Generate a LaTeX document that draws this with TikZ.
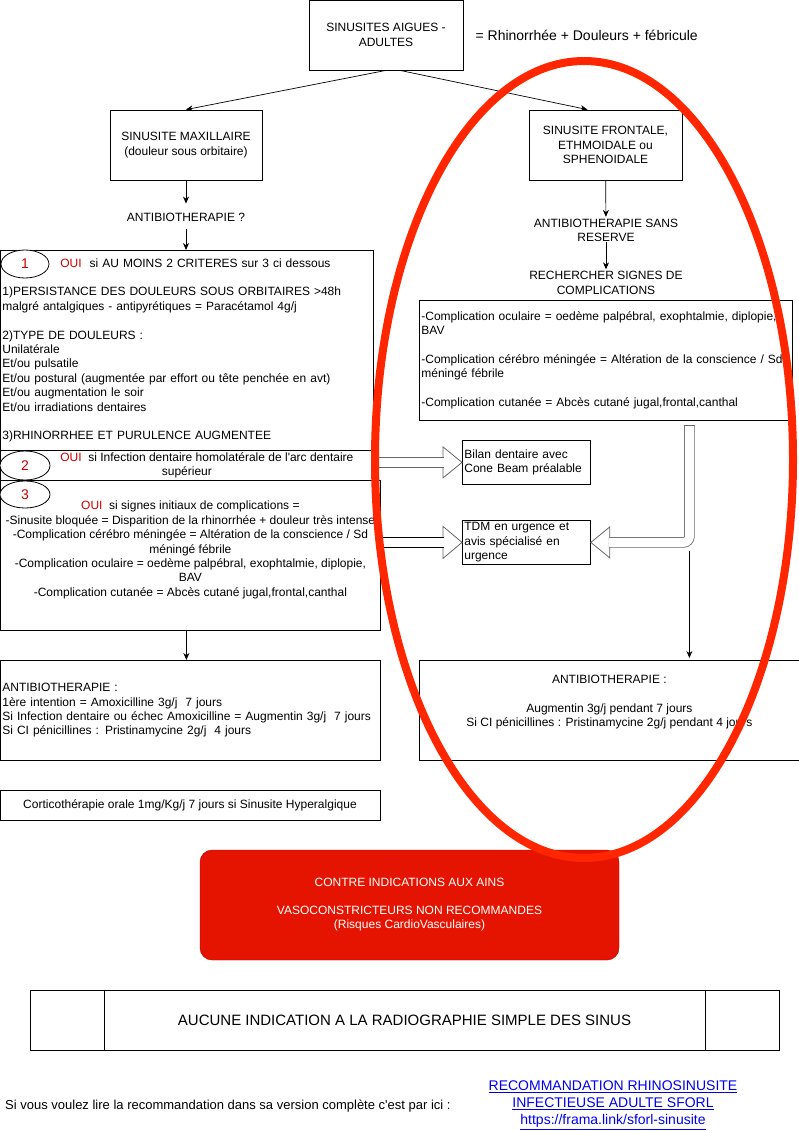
\documentclass[tikz,border=0pt]{standalone}
\usepackage{fontspec}
\setmainfont{Liberation Sans}
\usetikzlibrary{positioning, calc, arrows.meta, shapes.geometric}
\definecolor{ouired}{RGB}{204,0,0}
\definecolor{alertfill}{RGB}{229,20,0}
\definecolor{alertdraw}{RGB}{178,0,0}
\definecolor{circlered}{RGB}{255,38,0}
\definecolor{linkblue}{RGB}{0,0,238}
\tikzset{
    every node/.style={font=\fontsize{12}{14.4}\selectfont},
    plain/.style={inner sep=0pt, align=center},
    rectbox/.style={draw=black, line width=0.8pt, align=center, inner sep=2pt},
    leftbox/.style={rectbox, align=left, anchor=north west},
    numcircle/.style={draw=black, fill=white, ellipse, line width=0.8pt, minimum width=48pt, minimum height=28pt, inner sep=0pt, text=ouired, font=\fontsize{14}{16}\selectfont},
    arrow/.style={-{Stealth[length=7pt,width=6pt]}, line width=0.7pt},
    flexshaft/.style={draw=black!60, double=white, double distance=9pt, line width=0.8pt},
    flexhead/.style={draw=black!60, fill=white, line width=0.8pt, line join=miter},
}

\begin{document}
\begin{tikzpicture}[x=1pt, y=-1pt]
\useasboundingbox (0,0) rectangle (799,1131);
% top of the chart
   \node[rectbox, minimum width=154pt, minimum height=70pt] (top) at (386,35) {SINUSITES AIGUES -\\ADULTES};
   \node[plain, right=12pt of top, font=\fontsize{14}{16.8}\selectfont] (defin) {= Rhinorrhée + Douleurs + fébricule};
% left branch : maxillary sinusitis
   \node[rectbox, minimum width=152pt, minimum height=70pt] (maxi) at (186,145) {SINUSITE MAXILLAIRE\\(douleur sous orbitaire)};
   \node[plain] (abq) at (186,217) {ANTIBIOTHERAPIE ?};
   \node[leftbox, text width=369pt, minimum height=200pt] (crit1) at (0,250) {\hspace*{58pt}\textcolor{ouired}{OUI}\ \ si AU MOINS 2 CRITERES sur 3 ci dessous\\[14.4pt]1)PERSISTANCE DES DOULEURS SOUS ORBITAIRES >48h\\malgré antalgiques - antipyrétiques = Paracétamol 4g/j\\[14.4pt]2)TYPE DE DOULEURS :\\Unilatérale\\Et/ou pulsatile\\Et/ou postural (augmentée par effort ou tête penchée en avt)\\Et/ou augmentation le soir\\Et/ou irradiations dentaires\\[14.4pt]3)RHINORRHEE ET PURULENCE AUGMENTEE};
   \node[rectbox, anchor=north west, minimum width=373pt, minimum height=30pt, inner ysep=0.5pt] (crit2) at (0,450) {\hspace*{40pt}\textcolor{ouired}{OUI}\ \ si Infection dentaire homolatérale de l\textquotesingle arc dentaire\\supérieur};
   \node[rectbox, anchor=north west, minimum width=380pt, minimum height=150pt, inner xsep=0pt] (crit3) at (0,480) {\rule{0pt}{14pt}\textcolor{ouired}{OUI}\ \ si signes initiaux de complications =\\-Sinusite bloquée = Disparition de la rhinorrhée + douleur très intense\\-Complication cérébro méningée = Altération de la conscience / Sd\\méningé fébrile\\-Complication oculaire = oedème palpébral, exophtalmie, diplopie,\\BAV\\-Complication cutanée = Abcès cutané jugal,frontal,canthal\\\strut};
   \node[numcircle] (n1) at (25,264) {1};
   \node[numcircle, minimum width=50pt, minimum height=29pt] (n2) at (25,465.5) {2};
   \node[numcircle, minimum width=50pt, minimum height=27pt] (n3) at (25,494.5) {3};
   \node[leftbox, text width=376pt, minimum height=100pt] (ableft) at (0,660) {ANTIBIOTHERAPIE :\\1ère intention = Amoxicilline 3g/j\ \ 7 jours\\Si Infection dentaire ou échec Amoxicilline = Augmentin 3g/j\ \ 7 jours\\Si CI pénicillines : Pristinamycine 2g/j\ \ 4 jours};
   \node[rectbox, minimum width=380pt, minimum height=30pt] (cortico) at (190,805) {Corticothérapie orale 1mg/Kg/j 7 jours si Sinusite Hyperalgique};
% right branch : frontal, ethmoid or sphenoid sinusitis
   \node[rectbox, minimum width=153pt, minimum height=70pt] (front) at (605.5,145) {SINUSITE FRONTALE,\\ETHMOIDALE ou\\SPHENOIDALE};
   \node[plain] (absans) at (606,230.5) {ANTIBIOTHERAPIE SANS\\RESERVE};
   \node[plain] (rech) at (606,283) {RECHERCHER SIGNES DE\\COMPLICATIONS};
   \node[leftbox, text width=369pt, minimum height=120pt] (compl) at (419,300) {-Complication oculaire = oedème palpébral, exophtalmie, diplopie,\\BAV\\[14.4pt]-Complication cérébro méningée = Altération de la conscience / Sd\\méningé fébrile\\[14.4pt]-Complication cutanée = Abcès cutané jugal,frontal,canthal};
   \node[leftbox, text width=124pt, minimum height=44pt] (bilan) at (462,440) {Bilan dentaire avec\\Cone Beam préalable};
   \node[leftbox, text width=124pt, minimum height=44pt] (tdm) at (462,520) {TDM en urgence et\\avis spécialisé en\\urgence};
   \node[rectbox, anchor=north west, minimum width=380pt, minimum height=100pt] (abright) at (419,660) {ANTIBIOTHERAPIE :\\[14.4pt]Augmentin 3g/j pendant 7 jours\\Si CI pénicillines : Pristinamycine 2g/j pendant 4 jours\\\strut};
% bottom notes
   \node[draw=alertdraw, fill=alertfill, text=white, rounded corners=12pt, align=center, minimum width=419pt, minimum height=110pt, font=\fontsize{12}{14}\selectfont] (alert) at (409.5,905) {CONTRE INDICATIONS AUX AINS\\[14pt]VASOCONSTRICTEURS NON RECOMMANDES\\(Risques CardioVasculaires)};
   \node[rectbox, minimum width=749pt, minimum height=60pt, font=\fontsize{15}{18}\selectfont] (noind) at (404.5,1020) {AUCUNE INDICATION A LA RADIOGRAPHIE SIMPLE DES SINUS};
   \draw[line width=0.8pt] ([xshift=75pt]noind.north west) -- ([xshift=75pt]noind.south west);
   \draw[line width=0.8pt] ([xshift=-74pt]noind.north east) -- ([xshift=-74pt]noind.south east);
   \node[plain, anchor=west, font=\fontsize{13}{15.6}\selectfont] (lire) at (5,1106) {Si vous voulez lire la recommandation dans sa version complète c\textquotesingle est par ici :};
   \node[plain, text=linkblue, font=\fontsize{14}{17}\selectfont] (lien) at (613,1105) {\underline{RECOMMANDATION RHINOSINUSITE}\\\underline{INFECTIEUSE ADULTE SFORL}\\\underline{https://frama.link/sforl-sinusite}};
% thin arrows
   \draw[arrow] (top.south) -- (maxi.north);
   \draw[arrow] ([xshift=14pt]top.south) -- ([xshift=-18pt]front.north);
   \draw[arrow, shorten >=9pt] (maxi) -- (abq);
   \draw[arrow, shorten <=8pt] (abq.south) -- (abq.south |- crit1.north);
   \draw[arrow] ([xshift=-4pt]crit3.south) -- ([xshift=-4pt]ableft.north);
   \draw[arrow, shorten >=2pt] (front) -- (absans);
   \draw[arrow, shorten >=2pt] (absans) -- (rech);
% hollow arrows towards the exams
   \draw[flexhead] (bilan.west) -- ++(-19,-15.5) -- ++(0,31) -- cycle;
   \draw[flexshaft] ([xshift=0.5pt]crit2.east |- bilan.west) -- ([xshift=-18pt]bilan.west);
   \draw[flexhead] (tdm.west) -- ++(-19,-16) -- ++(0,32) -- cycle;
   \draw[flexshaft, draw=black] ([xshift=0.5pt]crit3.east |- tdm.west) -- ([xshift=-18pt]tdm.west);
   \coordinate (complout) at ([xshift=83.5pt, yshift=-5pt]compl.south);
   \coordinate (bend) at (complout |- tdm.east);
   \draw[flexhead] (tdm.east) -- ++(19,-15.5) -- ++(0,31) -- cycle;
   \draw[flexshaft, rounded corners=6pt] (complout) |- ([xshift=18pt]tdm.east);
   \draw[draw=black!60, line width=0.8pt] ([xshift=-5.3pt]complout) -- ([xshift=5.3pt]complout);
   \draw[arrow, shorten >=2pt] ([yshift=-9pt]bend) -- (bend |- abright.north);
% red ring around the right branch
   \node[draw=circlered, ellipse, line width=8pt, inner sep=0pt, minimum width=418pt, minimum height=797pt] (focus) at (584,459.5) {};
\end{tikzpicture}
\end{document}
